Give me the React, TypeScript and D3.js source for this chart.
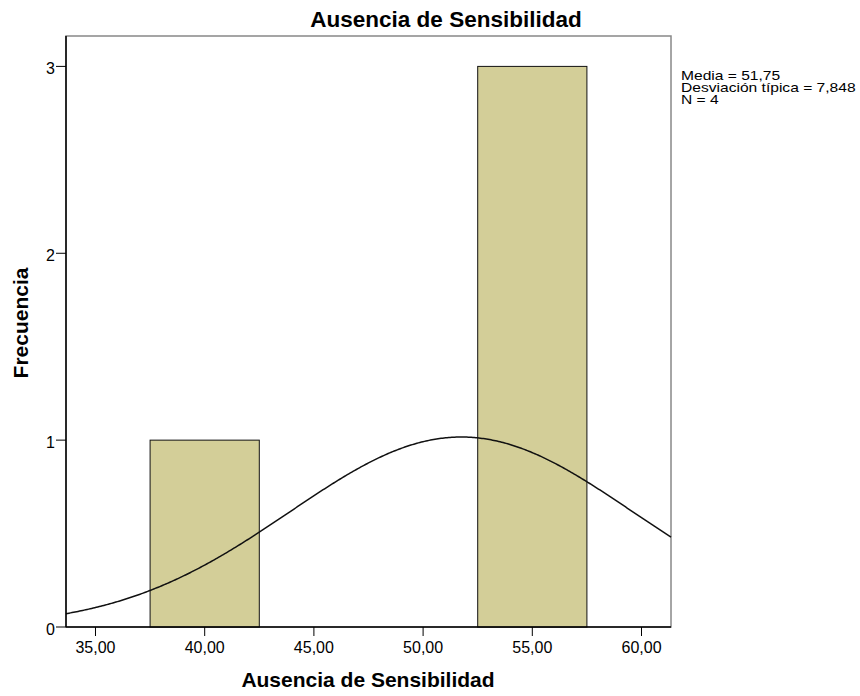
import React from "react";
import * as d3 from "d3";

const binStarts = [37.5, 42.5, 47.5, 52.5];
const binEnds = [42.5, 47.5, 52.5, 57.5];
const counts = [1, 0, 0, 3];
const xTicks = [35, 40, 45, 50, 55, 60];
const yTicks = [0, 1, 2, 3];
const mean = 51.75;
const sd = 7.848;
const n = 4;
const binWidth = 5;
const statsLines = ["Media = 51,75", "Desviación típica = 7,848", "N = 4"];

export default function App() {
  const W = 860, H = 696;
  const left = 66, right = 671, top = 36, bottom = 627;
  const x = d3.scaleLinear().domain([33.65, 61.35]).range([left, right]);
  const y = d3.scaleLinear().domain([0, 3]).range([bottom, 66.4]);
  const font = "'Liberation Sans', Arial, sans-serif";
  const fmt = (v: number) => v.toFixed(2).replace(".", ",");
  const pts = d3.range(0, 401).map(i => {
    const xv = 33.65 + (61.35 - 33.65) * i / 400;
    const d = n * binWidth / (sd * Math.sqrt(2 * Math.PI)) * Math.exp(-0.5 * ((xv - mean) / sd) ** 2);
    return [xv, d] as [number, number];
  });
  const line = d3.line<[number, number]>().x(d => x(d[0])).y(d => y(d[1]));
  const sx = 1.2;
  return (
    <svg width={W} height={H} style={{ position: "absolute", left: 0, top: 0 }} fontFamily={font}>
      <rect width={W} height={H} fill="#fff" />
      <text x={446} y={27} textAnchor="middle" fontSize={22.5} fontWeight="bold">Ausencia de Sensibilidad</text>
      <rect x={left} y={top} width={right - left} height={bottom - top} fill="none" stroke="#888" strokeWidth={1.5} />
      {counts.map((c, i) => c > 0 ? (
        <rect key={i} x={x(binStarts[i])} y={y(c)} width={x(binEnds[i]) - x(binStarts[i])} height={y(0) - y(c)}
          fill="#d3ce98" stroke="#111" strokeWidth={1} />
      ) : null)}
      <path d={line(pts) || ""} fill="none" stroke="#111" strokeWidth={1.5} />
      <line x1={left} x2={left} y1={top} y2={bottom} stroke="#000" strokeWidth={1.5} />
      <line x1={left} x2={right} y1={bottom} y2={bottom} stroke="#000" strokeWidth={1.5} />
      {yTicks.map(t => (
        <g key={t}>
          <line x1={left - 10} x2={left} y1={y(t)} y2={y(t)} stroke="#000" strokeWidth={1} />
          <text x={55} y={y(t) + 8} textAnchor="end" fontSize={16}>{t}</text>
        </g>
      ))}
      {xTicks.map(t => (
        <g key={t}>
          <line x1={x(t)} x2={x(t)} y1={bottom} y2={bottom + 9} stroke="#000" strokeWidth={1} />
          <text x={x(t)} y={bottom + 26} textAnchor="middle" fontSize={16}>{fmt(t)}</text>
        </g>
      ))}
      <text x={368} y={687} textAnchor="middle" fontSize={21} fontWeight="bold">Ausencia de Sensibilidad</text>
      <text transform="translate(28,323) rotate(-90)" textAnchor="middle" fontSize={21} fontWeight="bold">Frecuencia</text>
      <g transform={`translate(681,80) scale(${sx},1)`}>
        <text x={0} y={0} fontSize={13}>
          {statsLines.map((s, i) => (
            <tspan key={i} x={0} dy={i === 0 ? 0 : 12}>{s}</tspan>
          ))}
        </text>
      </g>
    </svg>
  );
}
